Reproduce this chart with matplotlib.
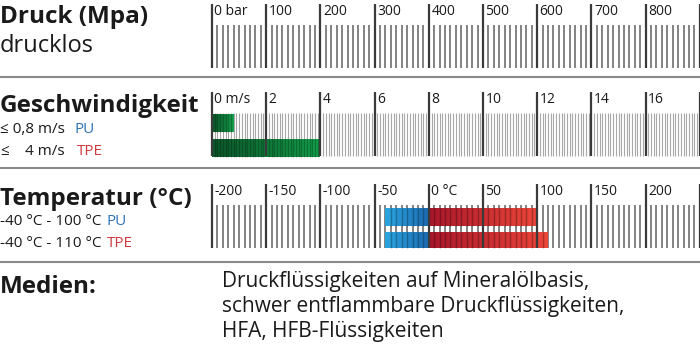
import matplotlib
matplotlib.use('Agg')
import matplotlib.pyplot as plt
from matplotlib.colors import LinearSegmentedColormap
import numpy as np

plt.rcParams['font.family'] = ['Open Sans', 'DejaVu Sans']

# --- data ---
druck_major = [0, 100, 200, 300, 400, 500, 600, 700, 800, 900]
druck_labels = ['0 bar', '100', '200', '300', '400', '500', '600', '700', '800', '']
druck_step = 10

speed_major = [0, 2, 4, 6, 8, 10, 12, 14, 16, 18]
speed_labels = ['0 m/s', '2', '4', '6', '8', '10', '12', '14', '16', '']
speed_step = 0.1
speed_pu = 0.8
speed_tpe = 4

temp_major = [-200, -150, -100, -50, 0, 50, 100, 150, 200, 250]
temp_labels = ['-200', '-150', '-100', '-50', '0 °C', '50', '100', '150', '200', '']
temp_step = 5
temp_pu = (-40, 100)
temp_tpe = (-40, 110)

medien = ['Druckflüssigkeiten auf Mineralölbasis,',
          'schwer entflammbare Druckflüssigkeiten,',
          'HFA, HFB-Flüssigkeiten']

W, H = 700, 354
TXT = '#1a1a1a'
BLUE_TXT = '#2f73b5'
RED_TXT = '#cf3a3f'

green = LinearSegmentedColormap.from_list('g', ['#0c5a2c', '#13a24c'])
blue = LinearSegmentedColormap.from_list('b', ['#2aa3dd', '#1c6db2'])
red = LinearSegmentedColormap.from_list('r', ['#a8162a', '#ea4539'])

fig = plt.figure(figsize=(W / 100, H / 100), dpi=100)


def fy(y):
    return 1 - y / H


def scale_axes(y0, y1, px_per_unit, origin):
    ax = fig.add_axes([205 / W, fy(y1), 495 / W, (y1 - y0) / H])
    ax.set_xlim(origin - 7 / px_per_unit, origin + 488 / px_per_unit)
    ax.set_ylim(y1, y0)
    ax.axis('off')
    return ax


def gradient_bar(ax, start, end, top, bottom, cmap, minor, n=40):
    edges = np.linspace(start, end, n + 1)
    cols = cmap(np.linspace(0, 1, n))
    ax.barh((top + bottom) / 2, np.diff(edges), left=edges[:-1],
            height=bottom - top, color=cols, zorder=2, linewidth=0)
    inside = [m for m in minor if start < m < end]
    ax.vlines(inside, top, bottom, color='black', alpha=0.28, lw=1.0, zorder=3)


def draw_scale(ax, major, labels, step, major_top, minor_top, bottom,
               minor_col, minor_lw):
    minor = np.arange(major[0], major[-1] + step / 2, step)
    minor = [m for m in minor if not np.any(np.isclose(m, major))]
    ax.vlines(minor, minor_top, bottom, color=minor_col, lw=minor_lw, zorder=1)
    ax.vlines(major, major_top, bottom, color='#3a3a3a', lw=1.6, zorder=4)
    for m, lab in zip(major, labels):
        ax.annotate(lab, (m, major_top), xytext=(2.5, -11), textcoords='offset pixels',
                    fontsize=10, color=TXT, va='baseline', ha='left')
    return minor


# Druck
ax1 = scale_axes(0, 75, 0.542, druck_major[0])
draw_scale(ax1, druck_major, druck_labels, druck_step, 4, 25, 68, '#7a7a7a', 1.3)

# Geschwindigkeit
ax2 = scale_axes(85, 165, 27.1, speed_major[0])
m2 = draw_scale(ax2, speed_major, speed_labels, speed_step, 92, 113, 156, '#a8a8a8', 0.8)
gradient_bar(ax2, 0, speed_pu, 114, 132, green, m2, n=8)
gradient_bar(ax2, 0, speed_tpe, 139, 156.5, green, m2)

# Temperatur
ax3 = scale_axes(175, 255, 1.084, temp_major[0])
m3 = draw_scale(ax3, temp_major, temp_labels, temp_step, 184, 205, 248, '#7a7a7a', 1.3)
gradient_bar(ax3, temp_pu[0], 0, 208, 226, blue, m3, n=10)
gradient_bar(ax3, 0, temp_pu[1], 208, 226, red, m3)
gradient_bar(ax3, temp_tpe[0], 0, 232, 248, blue, m3, n=10)
gradient_bar(ax3, 0, temp_tpe[1], 232, 248, red, m3)

# separators
for y in [77, 168, 262]:
    fig.add_artist(plt.Line2D([0, 1], [fy(y), fy(y)], color='#8a8a8a', lw=1.5))


def t(x, y, s, size, bold=False, color=TXT):
    fig.text(x / W, fy(y), s, fontsize=size, color=color, va='baseline', ha='left',
             fontweight='bold' if bold else 'normal')


t(0, 23, 'Druck (Mpa)', 17.5, bold=True)
t(0, 52, 'drucklos', 17)
t(0, 112, 'Geschwindigkeit', 17.5, bold=True)
t(0, 133, '≤ 0,8 m/s', 11)
t(74, 133, 'PU', 11, color=BLUE_TXT)
t(0, 155, '≤', 11)
t(25, 155, '4 m/s', 11)
t(77, 155, 'TPE', 11, color=RED_TXT)
t(0, 205, 'Temperatur (°C)', 17.5, bold=True)
t(0, 225, '-40 °C - 100 °C', 11)
t(107, 225, 'PU', 11, color=BLUE_TXT)
t(0, 247, '-40 °C - 110 °C', 11)
t(107, 247, 'TPE', 11, color=RED_TXT)
t(0, 293, 'Medien:', 17.5, bold=True)
for i, line in enumerate(medien):
    t(222, 287 + 25 * i, line, 15)

fig.savefig('out.png', dpi=100)
